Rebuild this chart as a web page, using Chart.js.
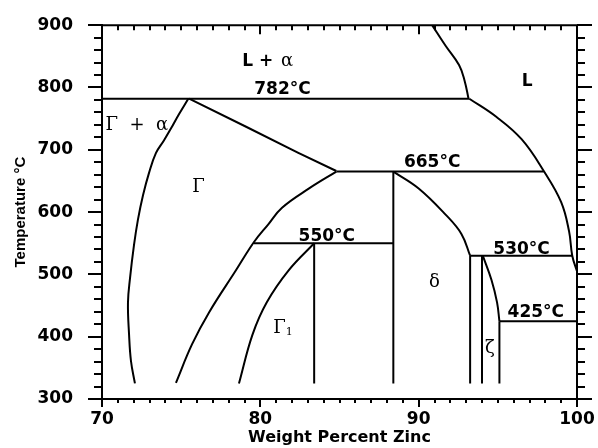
<!DOCTYPE html>
<html>
<head>
<meta charset="utf-8">
<script src="https://cdn.jsdelivr.net/npm/chart.js@4.4.1/dist/chart.umd.min.js"></script>
<style>
  html, body { margin: 0; padding: 0; background: #fff; }
  #wrap { width: 598px; height: 448px; }
</style>
</head>
<body>
<div id="wrap"><canvas id="phase"></canvas></div>
<script>
// phase boundaries, [wt% Zn, temperature °C]
const liquidusUpper = [[90.85, 900], [91.7, 867], [92.55, 836], [92.9, 811], [93.15, 782]];
const liquidusLower = [[93.2, 782], [94.9, 753], [96.5, 717], [97.9, 666], [99.0, 616], [99.5, 569], [99.7, 530], [100, 505]];
const gammaLeft = [[75.45, 782], [74.86, 757], [74.42, 737], [73.91, 715], [73.41, 695], [72.97, 663], [72.59, 627],
  [72.27, 588], [72.02, 547], [71.77, 494], [71.64, 455], [71.71, 403], [71.83, 361], [72.08, 325]];
const gammaTop = [[75.5, 782], [79.1, 737], [82.4, 695], [84.8, 666]];
const gammaRight = [[84.8, 665], [83.08, 638], [81.37, 607], [80.49, 580], [79.6, 552], [78.47, 507], [76.76, 439], [75.69, 388], [74.67, 326]];
const gamma1Left = [[83.4, 550], [81.8, 507], [80.4, 455], [79.5, 403], [78.65, 325]];
const deltaRight = [[88.4, 665], [90.0, 638], [91.7, 596], [92.7, 565], [93.25, 530]];
const zetaLeft = [[94.05, 530], [94.6, 491], [94.95, 455], [95.1, 425]];

// isotherms and vertical phase limits
const isotherms = [[[70, 782], [93.2, 782]], [[84.8, 665], [97.9, 665]], [[79.6, 550], [88.4, 550]], [[93.25, 530], [99.7, 530]], [[95.1, 425], [100, 425]]];
const verticals = [[[83.4, 550], [83.4, 325]], [[88.4, 665], [88.4, 325]], [[93.25, 530], [93.25, 325]], [[94.0, 530], [94.0, 325]], [[95.1, 425], [95.1, 325]]];

// region / temperature labels
const labels = [
  ['L + α', 80.4, 842, 'mixL'],
  ['782°C', 81.4, 797, 'temp'],
  ['L', 96.85, 809, 'temp'],
  ['Γ + α', 72.2, 740, 'greek'],
  ['Γ', 76.1, 640, 'greek'],
  ['665°C', 90.85, 679, 'temp'],
  ['550°C', 84.2, 561, 'temp'],
  ['530°C', 96.5, 540, 'temp'],
  ['δ', 91.0, 488, 'greek'],
  ['Γ', 81.2, 414, 'sub1'],
  ['425°C', 97.4, 438, 'temp'],
  ['ζ', 94.5, 381, 'greek']
];

const xTicks = [70, 80, 90, 100];
const yTicks = [300, 400, 500, 600, 700, 800, 900];

const toXY = pts => pts.map(p => ({x: p[0], y: p[1]}));

function curve(pts) {
  return {data: toXY(pts), borderColor: '#000', borderWidth: 2,
    pointRadius: 0, tension: 0.4, fill: false};
}
function straight(pts) {
  return {data: toXY(pts), borderColor: '#000', borderWidth: 2,
    pointRadius: 0, tension: 0, fill: false};
}

const datasets = [
  curve(liquidusUpper), curve(liquidusLower), curve(gammaLeft), straight(gammaTop),
  curve(gammaRight), curve(gamma1Left), curve(deltaRight), curve(zetaLeft)
].concat(isotherms.map(straight), verticals.map(straight));

const frameTicks = {
  id: 'frameTicks',
  afterDraw(chart) {
    const {ctx, chartArea: a, scales: {x, y}} = chart;
    ctx.save();
    ctx.strokeStyle = '#000';
    ctx.lineWidth = 2;
    ctx.beginPath();
    ctx.moveTo(a.left, a.top);
    ctx.lineTo(a.right, a.top);
    ctx.lineTo(a.right, a.bottom);
    ctx.stroke();
    ctx.beginPath();
    for (let v = 70; v <= 100; v++) {
      const px = Math.round(x.getPixelForValue(v));
      const major = v % 10 === 0;
      if (!major) { ctx.moveTo(px, a.bottom); ctx.lineTo(px, a.bottom + 4); }
      ctx.moveTo(px, a.top); ctx.lineTo(px, a.top + (major ? 9 : 5));
    }
    for (let t = 300; t <= 900; t += 20) {
      const py = Math.round(y.getPixelForValue(t));
      const major = t % 100 === 0;
      if (!major) { ctx.moveTo(a.left - 8, py); ctx.lineTo(a.left, py); }
      ctx.moveTo(a.right, py); ctx.lineTo(a.right + (major ? 15 : 8), py);
    }
    ctx.stroke();
    ctx.restore();
  }
};

const regionLabels = {
  id: 'regionLabels',
  afterDatasetsDraw(chart) {
    const {ctx, scales: {x, y}} = chart;
    ctx.save();
    ctx.fillStyle = '#000';
    ctx.textBaseline = 'middle';
    labels.forEach(([text, vx, vy, kind]) => {
      const px = x.getPixelForValue(vx), py = y.getPixelForValue(vy);
      if (kind === 'temp') {
        ctx.font = 'bold 17px "DejaVu Sans"';
        ctx.textAlign = 'center';
        ctx.fillText(text, px, py);
      } else if (kind === 'greek') {
        ctx.font = '18px "DejaVu Serif"';
        ctx.textAlign = 'center';
        ctx.fillText(text.replace(/ \+ /, '  +  '), px, py);
      } else if (kind === 'sub1') {
        ctx.font = '18px "DejaVu Serif"';
        ctx.textAlign = 'left';
        const w = ctx.measureText(text).width;
        ctx.fillText(text, px - 6, py);
        ctx.font = '11px "DejaVu Serif"';
        ctx.fillText('1', px - 6 + w, py + 4);
      } else {
        // "L + α": sans L and plus, serif alpha
        ctx.textAlign = 'left';
        ctx.font = 'bold 17px "DejaVu Sans"';
        const a = 'L + ';
        const wa = ctx.measureText(a).width;
        ctx.font = '18px "DejaVu Serif"';
        const wb = ctx.measureText('α').width;
        let sx = px - (wa + wb) / 2;
        ctx.font = 'bold 17px "DejaVu Sans"';
        ctx.fillText(a, sx, py);
        ctx.font = '18px "DejaVu Serif"';
        ctx.fillText('α', sx + wa + 2, py);
      }
    });
    ctx.restore();
  }
};

new Chart(document.getElementById('phase'), {
  type: 'line',
  data: {datasets: datasets},
  options: {
    responsive: true,
    maintainAspectRatio: false,
    animation: false,
    layout: {padding: {top: 15, right: 21, left: 0, bottom: 0}},
    plugins: {legend: {display: false}, tooltip: {enabled: false}},
    scales: {
      x: {
        type: 'linear', min: 70, max: 100,
        afterBuildTicks: s => { s.ticks = xTicks.map(v => ({value: v})); },
        afterFit: s => { s.height = 49; },
        ticks: {color: '#000', padding: 2, font: {family: 'DejaVu Sans', size: 17, weight: 'bold'}},
        grid: {drawOnChartArea: false, color: '#000', lineWidth: 2, tickLength: 8},
        border: {color: '#000', width: 2},
        title: {display: true, text: 'Weight Percent Zinc', color: '#000',
          font: {family: 'DejaVu Sans', size: 16, weight: 'bold'}, padding: {top: 0, bottom: 1}}
      },
      y: {
        type: 'linear', min: 300, max: 900,
        afterBuildTicks: s => { s.ticks = yTicks.map(v => ({value: v})); },
        afterFit: s => { s.width = 102; },
        ticks: {color: '#000', padding: 15, font: {family: 'DejaVu Sans', size: 17, weight: 'bold'}},
        grid: {drawOnChartArea: false, color: '#000', lineWidth: 2, tickLength: 14},
        border: {color: '#000', width: 2},
        title: {display: true, text: 'Temperature °C', color: '#000',
          font: {family: 'Liberation Sans', size: 15, weight: 'bold'}, padding: {top: 12, bottom: 0}}
      }
    }
  },
  plugins: [frameTicks, regionLabels]
});
</script>
</body>
</html>
